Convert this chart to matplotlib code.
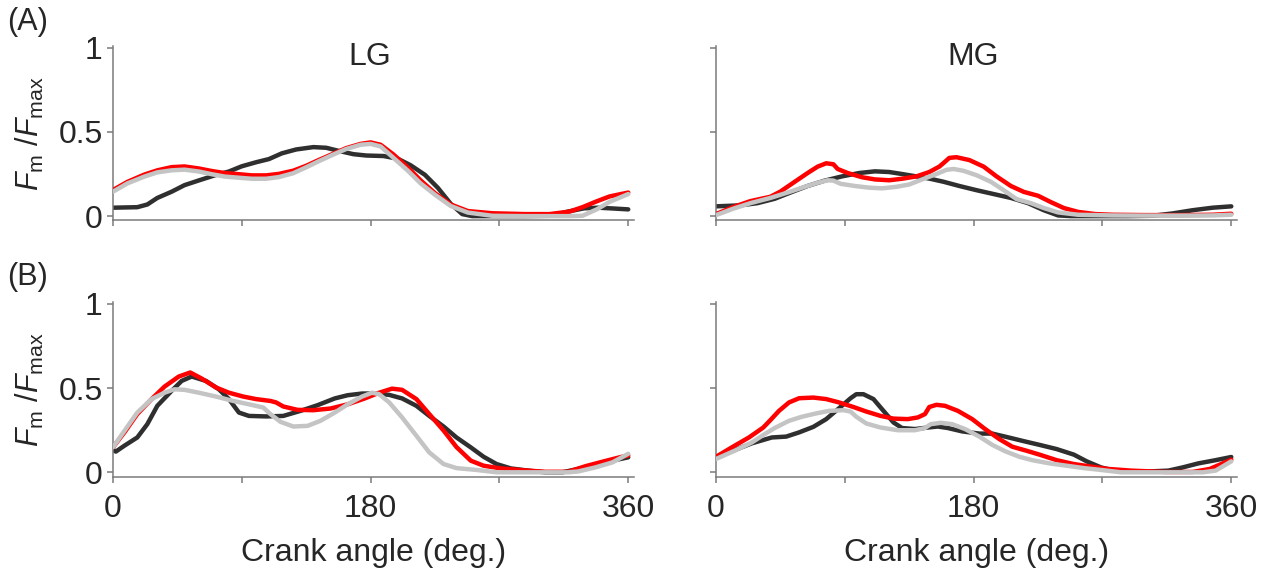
import matplotlib
matplotlib.use('Agg')
import matplotlib.pyplot as plt

plt.rcParams['font.family'] = ['Liberation Sans', 'DejaVu Sans']
plt.rcParams['mathtext.fontset'] = 'custom'
plt.rcParams['mathtext.rm'] = 'Liberation Sans'
plt.rcParams['mathtext.it'] = 'Liberation Sans:italic'

# normalised muscle force over one crank cycle, read per condition
lg_a_black_deg = [0, 17, 24, 31, 41, 50, 60, 71, 81, 90, 100, 109, 118, 128, 140, 149, 158, 168, 177, 189, 199, 208, 218, 227, 236, 244, 251, 265, 288, 306, 318, 329, 339, 348, 360]
lg_a_black_val = [0.050, 0.053, 0.069, 0.108, 0.145, 0.184, 0.212, 0.242, 0.265, 0.296, 0.320, 0.339, 0.373, 0.396, 0.410, 0.406, 0.387, 0.368, 0.360, 0.357, 0.341, 0.302, 0.245, 0.168, 0.073, 0.012, 0.0, 0.0, 0.0, 0.002, 0.027, 0.046, 0.050, 0.046, 0.040]
lg_a_red_deg = [0, 10, 22, 31, 41, 50, 60, 69, 78, 88, 97, 107, 116, 126, 135, 144, 154, 163, 173, 180, 187, 196, 206, 215, 225, 236, 248, 265, 288, 305, 319, 328, 338, 347, 360]
lg_a_red_val = [0.155, 0.203, 0.247, 0.272, 0.291, 0.295, 0.283, 0.268, 0.256, 0.249, 0.242, 0.242, 0.251, 0.270, 0.299, 0.334, 0.371, 0.404, 0.429, 0.438, 0.424, 0.366, 0.289, 0.212, 0.136, 0.069, 0.030, 0.017, 0.012, 0.012, 0.027, 0.053, 0.088, 0.117, 0.140]
lg_a_gray_deg = lg_a_red_deg
lg_a_gray_val = [0.145, 0.194, 0.235, 0.260, 0.272, 0.276, 0.265, 0.249, 0.235, 0.228, 0.222, 0.222, 0.232, 0.255, 0.290, 0.327, 0.366, 0.399, 0.424, 0.429, 0.414, 0.346, 0.270, 0.194, 0.127, 0.060, 0.021, 0.002, 0.0, 0.0, 0.0, 0.002, 0.040, 0.085, 0.131]

mg_a_black_deg = [0, 17, 29, 41, 52, 64, 76, 88, 100, 111, 121, 130, 140, 149, 159, 170, 182, 194, 206, 218, 229, 239, 248, 265, 288, 305, 319, 333, 347, 360]
mg_a_black_val = [0.058, 0.064, 0.077, 0.103, 0.140, 0.179, 0.211, 0.236, 0.256, 0.266, 0.262, 0.250, 0.236, 0.223, 0.204, 0.179, 0.154, 0.131, 0.108, 0.077, 0.035, 0.004, 0.0, 0.0, 0.0, 0.002, 0.016, 0.035, 0.050, 0.058]
mg_a_red_deg = [0, 12, 24, 38, 45, 55, 64, 71, 77, 82, 85, 92, 102, 111, 121, 130, 140, 149, 156, 160, 163, 168, 177, 187, 196, 206, 215, 225, 234, 243, 253, 265, 277, 300, 324, 347, 360]
mg_a_red_val = [0.012, 0.054, 0.089, 0.115, 0.146, 0.204, 0.256, 0.294, 0.314, 0.308, 0.280, 0.256, 0.231, 0.218, 0.213, 0.222, 0.236, 0.262, 0.294, 0.323, 0.346, 0.350, 0.333, 0.294, 0.236, 0.179, 0.144, 0.121, 0.083, 0.048, 0.025, 0.012, 0.008, 0.006, 0.006, 0.008, 0.014]
mg_a_gray_deg = [0, 12, 24, 38, 50, 62, 71, 78, 82, 87, 97, 107, 116, 126, 135, 144, 154, 161, 166, 173, 182, 192, 201, 210, 220, 229, 239, 253, 277, 300, 324, 347, 360]
mg_a_gray_val = [0.006, 0.044, 0.077, 0.108, 0.140, 0.174, 0.198, 0.213, 0.211, 0.192, 0.179, 0.169, 0.165, 0.174, 0.188, 0.218, 0.250, 0.275, 0.280, 0.269, 0.243, 0.204, 0.154, 0.101, 0.077, 0.048, 0.022, 0.008, 0.004, 0.003, 0.003, 0.004, 0.008]

lg_b_black_deg = [0, 2, 8, 17, 24, 31, 41, 48, 55, 65, 74, 81, 88, 95, 107, 119, 131, 143, 155, 164, 174, 183, 193, 202, 212, 221, 231, 240, 250, 259, 268, 278, 290, 302, 314, 325, 337, 349, 360]
lg_b_black_val = [0.135, 0.123, 0.158, 0.207, 0.286, 0.395, 0.484, 0.543, 0.569, 0.543, 0.493, 0.435, 0.355, 0.335, 0.332, 0.335, 0.365, 0.399, 0.439, 0.458, 0.468, 0.468, 0.460, 0.439, 0.395, 0.335, 0.272, 0.207, 0.148, 0.092, 0.049, 0.023, 0.010, 0.0, 0.0, 0.020, 0.043, 0.069, 0.089]
lg_b_red_deg = [0, 8, 17, 27, 36, 46, 54, 62, 72, 81, 91, 100, 110, 114, 119, 129, 140, 152, 164, 176, 186, 195, 202, 212, 221, 231, 240, 250, 259, 271, 290, 302, 318, 330, 342, 354, 360]
lg_b_red_val = [0.148, 0.237, 0.346, 0.435, 0.509, 0.569, 0.593, 0.557, 0.504, 0.473, 0.450, 0.435, 0.424, 0.415, 0.391, 0.371, 0.369, 0.379, 0.404, 0.439, 0.473, 0.497, 0.490, 0.435, 0.346, 0.248, 0.150, 0.069, 0.039, 0.023, 0.010, 0.003, 0.003, 0.036, 0.063, 0.089, 0.100]
lg_b_gray_deg = [0, 8, 17, 27, 36, 43, 50, 60, 72, 84, 95, 105, 110, 117, 126, 136, 145, 155, 164, 174, 181, 186, 193, 202, 212, 221, 231, 240, 254, 268, 283, 297, 318, 325, 337, 349, 360]
lg_b_gray_val = [0.148, 0.246, 0.355, 0.435, 0.473, 0.493, 0.490, 0.473, 0.450, 0.424, 0.404, 0.385, 0.346, 0.300, 0.272, 0.276, 0.306, 0.355, 0.404, 0.450, 0.473, 0.464, 0.415, 0.326, 0.217, 0.118, 0.049, 0.025, 0.014, 0.0, 0.0, 0.0, 0.0, 0.005, 0.029, 0.059, 0.110]

mg_b_black_deg = [0, 13, 25, 39, 49, 58, 68, 77, 86, 94, 98, 103, 110, 117, 124, 130, 139, 148, 155, 162, 172, 184, 193, 202, 214, 226, 238, 250, 259, 269, 278, 297, 316, 326, 337, 349, 360]
mg_b_black_val = [0.092, 0.132, 0.172, 0.207, 0.212, 0.237, 0.270, 0.316, 0.381, 0.440, 0.464, 0.464, 0.435, 0.365, 0.296, 0.263, 0.257, 0.266, 0.272, 0.263, 0.243, 0.230, 0.230, 0.212, 0.187, 0.163, 0.138, 0.105, 0.065, 0.029, 0.010, 0.003, 0.010, 0.029, 0.053, 0.072, 0.091]
mg_b_red_deg = [0, 11, 23, 33, 38, 44, 51, 58, 68, 77, 86, 96, 105, 115, 124, 134, 141, 146, 149, 154, 160, 169, 179, 188, 198, 207, 217, 226, 238, 250, 262, 274, 290, 314, 333, 345, 360]
mg_b_red_val = [0.092, 0.148, 0.207, 0.266, 0.310, 0.365, 0.415, 0.440, 0.444, 0.435, 0.415, 0.388, 0.361, 0.335, 0.319, 0.316, 0.326, 0.346, 0.388, 0.401, 0.395, 0.365, 0.316, 0.257, 0.197, 0.152, 0.128, 0.105, 0.072, 0.049, 0.034, 0.020, 0.010, 0.002, 0.002, 0.020, 0.075]
mg_b_gray_deg = [0, 13, 25, 34, 41, 51, 60, 70, 79, 89, 94, 98, 105, 115, 127, 139, 146, 150, 157, 165, 174, 184, 193, 202, 212, 221, 233, 245, 257, 269, 283, 302, 326, 340, 349, 360]
mg_b_gray_val = [0.079, 0.128, 0.177, 0.227, 0.263, 0.306, 0.330, 0.350, 0.365, 0.369, 0.361, 0.330, 0.290, 0.266, 0.250, 0.250, 0.263, 0.286, 0.294, 0.286, 0.257, 0.212, 0.163, 0.125, 0.092, 0.072, 0.053, 0.039, 0.025, 0.014, 0.0, 0.0, 0.0, 0.0, 0.010, 0.065]

muscles = ['LG', 'MG']
panel_tags = ['(A)', '(B)']
x_ticks = [0, 90, 180, 270, 360]
x_ticklabels = ['0', '', '180', '', '360']
y_ticks = [0, 0.5, 1]
y_ticklabels = ['0', '0.5', '1']

C_BLACK = '#2f2f2f'
C_RED = '#ff0000'
C_GRAY = '#c4c4c4'
C_AXIS = '#7a7a7a'
C_TEXT = '#262626'

panels = {
    (0, 0): [(lg_a_black_deg, lg_a_black_val), (lg_a_red_deg, lg_a_red_val), (lg_a_gray_deg, lg_a_gray_val)],
    (0, 1): [(mg_a_black_deg, mg_a_black_val), (mg_a_red_deg, mg_a_red_val), (mg_a_gray_deg, mg_a_gray_val)],
    (1, 0): [(lg_b_black_deg, lg_b_black_val), (lg_b_red_deg, lg_b_red_val), (lg_b_gray_deg, lg_b_gray_val)],
    (1, 1): [(mg_b_black_deg, mg_b_black_val), (mg_b_red_deg, mg_b_red_val), (mg_b_gray_deg, mg_b_gray_val)],
}

fig = plt.figure(figsize=(12.72, 5.73), dpi=100)

lefts = [0.0888, 0.5629]
bottoms = [0.6155, 0.1684]
width = 0.4096
height = 0.304

for (row, col), curves in panels.items():
    ax = fig.add_axes([lefts[col], bottoms[row], width, height])
    for (deg, val), color, z in zip(curves, [C_BLACK, C_RED, C_GRAY], [2, 3, 4]):
        ax.plot(deg, val, color=color, lw=3.2, zorder=z,
                solid_joinstyle='round', solid_capstyle='round')

    ax.set_xlim(0, 364)
    ax.set_ylim(-0.025, 1.01)
    for side in ['top', 'right']:
        ax.spines[side].set_visible(False)
    for side in ['left', 'bottom']:
        ax.spines[side].set_color(C_AXIS)
        ax.spines[side].set_linewidth(1.1)

    ax.set_xticks(x_ticks)
    ax.set_yticks(y_ticks)
    ax.tick_params(direction='out', length=4.5, width=1.1, color=C_AXIS,
                   labelcolor=C_TEXT, labelsize=23)
    ax.tick_params(axis='y', pad=3)
    ax.tick_params(axis='x', pad=8)

    if row == 1:
        ax.set_xticklabels(x_ticklabels)
        ax.set_xlabel('Crank angle (deg.)', fontsize=23, color=C_TEXT, labelpad=10)
    else:
        ax.set_xticklabels([])
        ax.text(0.493, 0.94, muscles[col], transform=ax.transAxes,
                ha='center', va='center', fontsize=23, color=C_TEXT)

    if col == 0:
        ax.set_yticklabels(y_ticklabels)
        ax.set_ylabel(r'$F_{\mathrm{m}}\ /F_{\mathrm{max}}$', fontsize=22,
                      color=C_TEXT, labelpad=9)
    else:
        ax.set_yticklabels([])

fig.text(0.0215, 0.962, panel_tags[0], fontsize=22, color=C_TEXT, ha='center', va='center')
fig.text(0.0215, 0.517, panel_tags[1], fontsize=22, color=C_TEXT, ha='center', va='center')

fig.savefig('out.png', dpi=100)
